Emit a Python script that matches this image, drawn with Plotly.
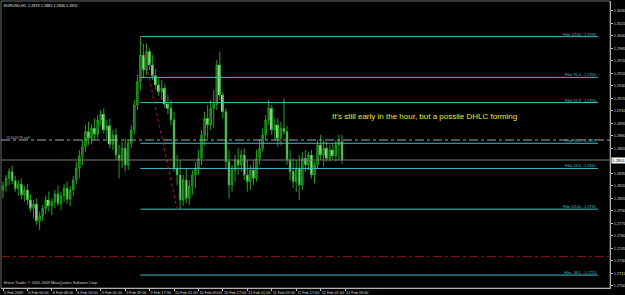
import plotly.graph_objects as go

# ---------------- data ----------------
symbol_title = "EURUSD,H1"
opens = [1.2815,1.2820,1.2829,1.2837,1.2826,1.2817,1.2822,1.2809,1.2815,1.2803,
         1.2793,1.2798,1.2778,1.2784,1.2793,1.2803,1.2796,1.2801,1.2810,1.2799,
         1.2808,1.2817,1.2804,1.2815,1.2827,1.2841,1.2856,1.2867,1.2885,1.2877,
         1.2889,1.2882,1.2899,1.2906,1.2887,1.2892,1.2870,1.2881,1.2857,1.2851,
         1.2865,1.2845,1.2871,1.2887,1.2917,1.2945,1.2977,1.2959,1.2981,1.2965,
         1.2952,1.2941,1.2933,1.2937,1.2918,1.2913,1.2899,1.2841,1.2833,1.2803,
         1.2827,1.2805,1.2820,1.2833,1.2841,1.2853,1.2881,1.2901,1.2893,1.2913,
         1.2918,1.2965,1.2929,1.2909,1.2849,1.2821,1.2839,1.2851,1.2845,1.2857,
         1.2833,1.2825,1.2839,1.2829,1.2853,1.2865,1.2881,1.2899,1.2913,1.2887,
         1.2893,1.2877,1.2889,1.2885,1.2851,1.2837,1.2825,1.2841,1.2821,1.2853,
         1.2845,1.2857,1.2833,1.2845,1.2869,1.2857,1.2865,1.2853,1.2863,1.2856,
         1.2869,1.2873]
highs = [1.2825,1.2833,1.2841,1.2844,1.2832,1.2827,1.2829,1.2820,1.2822,1.2810,
         1.2803,1.2805,1.2789,1.2797,1.2808,1.2813,1.2805,1.2815,1.2820,1.2813,
         1.2822,1.2825,1.2820,1.2832,1.2849,1.2863,1.2875,1.2893,1.2897,1.2894,
         1.2901,1.2905,1.2911,1.2913,1.2899,1.2901,1.2887,1.2889,1.2869,1.2873,
         1.2877,1.2875,1.2893,1.2923,1.2953,1.2999,1.2990,1.2991,1.2985,1.2977,
         1.2961,1.2949,1.2947,1.2942,1.2929,1.2923,1.2909,1.2857,1.2851,1.2833,
         1.2841,1.2827,1.2839,1.2849,1.2863,1.2887,1.2909,1.2917,1.2923,1.2935,
         1.2971,1.2981,1.2933,1.2913,1.2863,1.2845,1.2857,1.2865,1.2863,1.2865,
         1.2851,1.2845,1.2851,1.2863,1.2875,1.2889,1.2905,1.2923,1.2917,1.2901,
         1.2901,1.2897,1.2925,1.2892,1.2863,1.2853,1.2851,1.2857,1.2861,1.2863,
         1.2861,1.2863,1.2849,1.2875,1.2881,1.2875,1.2873,1.2869,1.2870,1.2875,
         1.2881,1.2881]
lows = [1.2805,1.2813,1.2821,1.2822,1.2813,1.2808,1.2804,1.2801,1.2797,1.2789,
        1.2781,1.2773,1.2767,1.2777,1.2786,1.2789,1.2785,1.2793,1.2796,1.2791,
        1.2801,1.2798,1.2796,1.2808,1.2822,1.2829,1.2845,1.2861,1.2869,1.2870,
        1.2875,1.2877,1.2892,1.2883,1.2873,1.2865,1.2863,1.2851,1.2829,1.2841,
        1.2837,1.2839,1.2865,1.2882,1.2911,1.2935,1.2949,1.2953,1.2959,1.2947,
        1.2935,1.2928,1.2923,1.2913,1.2906,1.2893,1.2837,1.2821,1.2792,1.2796,
        1.2799,1.2797,1.2809,1.2817,1.2833,1.2845,1.2869,1.2877,1.2887,1.2889,
        1.2911,1.2923,1.2901,1.2841,1.2805,1.2813,1.2825,1.2833,1.2837,1.2827,
        1.2813,1.2815,1.2821,1.2825,1.2845,1.2861,1.2875,1.2893,1.2881,1.2875,
        1.2867,1.2869,1.2881,1.2845,1.2827,1.2817,1.2813,1.2803,1.2815,1.2837,
        1.2839,1.2829,1.2823,1.2841,1.2851,1.2843,1.2849,1.2849,1.2851,1.2849,
        1.2851,1.2846]
closes = [1.2820,1.2829,1.2837,1.2826,1.2817,1.2822,1.2809,1.2815,1.2803,1.2793,
          1.2798,1.2778,1.2784,1.2793,1.2803,1.2796,1.2801,1.2810,1.2799,1.2808,
          1.2817,1.2804,1.2815,1.2827,1.2841,1.2856,1.2867,1.2885,1.2877,1.2889,
          1.2882,1.2899,1.2906,1.2887,1.2892,1.2870,1.2881,1.2857,1.2851,1.2865,
          1.2845,1.2871,1.2887,1.2917,1.2945,1.2977,1.2959,1.2981,1.2965,1.2952,
          1.2941,1.2933,1.2937,1.2918,1.2913,1.2899,1.2841,1.2833,1.2803,1.2827,
          1.2805,1.2820,1.2833,1.2841,1.2853,1.2881,1.2901,1.2893,1.2913,1.2918,
          1.2965,1.2929,1.2909,1.2849,1.2821,1.2839,1.2851,1.2845,1.2857,1.2833,
          1.2825,1.2839,1.2829,1.2853,1.2865,1.2881,1.2899,1.2913,1.2887,1.2893,
          1.2877,1.2889,1.2885,1.2851,1.2837,1.2825,1.2841,1.2821,1.2853,1.2845,
          1.2857,1.2833,1.2845,1.2869,1.2857,1.2865,1.2853,1.2863,1.2856,1.2869,
          1.2873,1.2851]

x_tick_labels = ["5 Feb 2009", "6 Feb 00:00", "6 Feb 08:00", "6 Feb 16:00",
                 "9 Feb 01:00", "9 Feb 09:00", "9 Feb 17:00", "10 Feb 01:00",
                 "10 Feb 09:00", "10 Feb 17:00", "11 Feb 01:00", "11 Feb 09:00",
                 "11 Feb 17:00", "12 Feb 01:00", "12 Feb 09:00"]
bars_per_label = 8

y_tick_first = 1.2700
y_tick_step = 0.0015
y_tick_count = 23

fib_high = 1.2999
fib_low = 1.2792
fib_anchor_bars = [45, 57]
fib_levels = [100, 76.4, 61.8, 38.2, 23.6, 0, -38.2]
fib_names = ["0/100", "76.4", "61.8", "38.2", "23.6", "0/100", "-38.2"]

order_price = 1.2875
order_label = "#5100579 sell"
pending_price = 1.2735
note_text = "It's still early in the hour, but a possile DHLC forming"
note_price = 1.2903
note_bar = 138
copyright_text = "Broco Trader, \u00a9 2001-2009 MetaQuotes Software Corp."

# ---------------- figure ----------------
n = len(closes)
idx = list(range(n))
x_min, x_max = -0.655, 198.75
y_min, y_max = 1.26974, 1.30418
fib_end = 194.8

FONT = "Liberation Sans, Arial, sans-serif"
SMALL = 3.8
CYAN = "#3fbfc4"
WICK = "#22a022"

fig = go.Figure()
fig.add_trace(go.Candlestick(
    x=idx, open=opens, high=highs, low=lows, close=closes,
    increasing=dict(line=dict(color=WICK, width=1), fillcolor="#135a13"),
    decreasing=dict(line=dict(color=WICK, width=1), fillcolor="#e8f6e0"),
    whiskerwidth=0, showlegend=False, hoverinfo="skip"))

# light bodies of falling bars drawn over the outlines
bear_x = [i for i in idx if closes[i] < opens[i]]
bear_base = [closes[i] for i in bear_x]
bear_len = [opens[i] - closes[i] for i in bear_x]
fig.add_trace(go.Bar(x=bear_x, y=bear_len, base=bear_base, width=0.62,
                     marker=dict(color="#eef8e6", line=dict(width=0)),
                     showlegend=False, hoverinfo="skip"))

shapes = []
annotations = []

for lvl, name in zip(fib_levels, fib_names):
    price = fib_low + (fib_high - fib_low) * lvl / 100.0
    shapes.append(dict(type="line", xref="x", yref="y", x0=fib_anchor_bars[0], x1=fib_end,
                       y0=price, y1=price, line=dict(color=CYAN, width=1)))
    annotations.append(dict(xref="x", yref="y", x=fib_end, y=price, xanchor="right",
                            yanchor="bottom", showarrow=False, yshift=-2,
                            text="Fibo %s - %.4f" % (name, price),
                            font=dict(family=FONT, size=SMALL, color=CYAN)))

shapes.append(dict(type="line", xref="x", yref="y", x0=fib_anchor_bars[0], x1=fib_anchor_bars[1],
                   y0=fib_high, y1=fib_low, line=dict(color="#b02020", width=1, dash="dot")))

shapes.append(dict(type="line", xref="paper", yref="y", x0=0, x1=1, y0=order_price, y1=order_price,
                   line=dict(color="#a8a8a8", width=1, dash="dashdot")))
annotations.append(dict(xref="paper", yref="y", x=0.005, y=order_price, xanchor="left",
                        yanchor="bottom", showarrow=False, yshift=-2, text=order_label,
                        font=dict(family=FONT, size=SMALL, color="#b0b0b0")))

shapes.append(dict(type="line", xref="paper", yref="y", x0=0, x1=1, y0=pending_price, y1=pending_price,
                   line=dict(color="#8a1818", width=1, dash="dashdot")))

bid = closes[-1]
shapes.append(dict(type="line", xref="paper", yref="y", x0=0, x1=1, y0=bid, y1=bid,
                   line=dict(color="#7a7a7a", width=1)))
annotations.append(dict(xref="paper", yref="y", x=1.0, y=bid, xanchor="left", yanchor="middle",
                        showarrow=False, text="%.4f" % bid, bgcolor="#ffffff", borderpad=0,
                        xshift=1, font=dict(family=FONT, size=4.2, color="#000000")))

annotations.append(dict(xref="x", yref="y", x=note_bar, y=note_price, showarrow=False,
                        text=note_text, font=dict(family=FONT, size=8, color="#e6e63a")))

annotations.append(dict(xref="paper", yref="paper", x=0.002, y=0.997, xanchor="left", yanchor="top",
                        showarrow=False,
                        text="%s  %.4f %.4f %.4f %.4f" % (symbol_title, opens[-1], highs[-1], lows[-1], closes[-1]),
                        font=dict(family=FONT, size=SMALL, color="#e0e0e0")))
annotations.append(dict(xref="paper", yref="paper", x=0.002, y=0.0, xanchor="left", yanchor="bottom",
                        showarrow=False, text=copyright_text, yshift=1,
                        font=dict(family=FONT, size=SMALL, color="#d0d0d0")))

tickvals_x = [k * bars_per_label for k in range(len(x_tick_labels))]
tickvals_y = [round(y_tick_first + k * y_tick_step, 4) for k in range(y_tick_count)]
tickvals_y = [v for v in tickvals_y if abs(v - bid) > 0.0006]

fig.update_layout(
    width=625, height=295,
    margin=dict(l=1, r=15, t=1, b=7, autoexpand=False),
    paper_bgcolor="#000000", plot_bgcolor="#000000",
    shapes=shapes, annotations=annotations, barmode="overlay",
    xaxis=dict(range=[x_min, x_max], showgrid=False, zeroline=False, rangeslider=dict(visible=False),
               tickvals=tickvals_x, ticktext=x_tick_labels, ticks="outside", ticklen=2,
               tickangle=0, automargin=False,
               tickcolor="#c0c0c0", ticklabelposition="outside right",
               tickfont=dict(family=FONT, size=SMALL, color="#d8d8d8"),
               showline=True, linecolor="#b0b0b0", linewidth=1, mirror=False, fixedrange=True),
    yaxis=dict(range=[y_min, y_max], side="right", showgrid=False, zeroline=False,
               tickvals=tickvals_y, tickformat=".4f", ticks="outside", ticklen=2, automargin=False,
               tickcolor="#c0c0c0", tickfont=dict(family=FONT, size=SMALL, color="#d8d8d8"),
               showline=True, linecolor="#b0b0b0", linewidth=1, fixedrange=True),
)
fig.add_shape(type="rect", xref="paper", yref="paper", x0=0, x1=1, y0=0, y1=1,
              line=dict(color="#6a6a6a", width=1), layer="below")

fig.write_html("out.html")
